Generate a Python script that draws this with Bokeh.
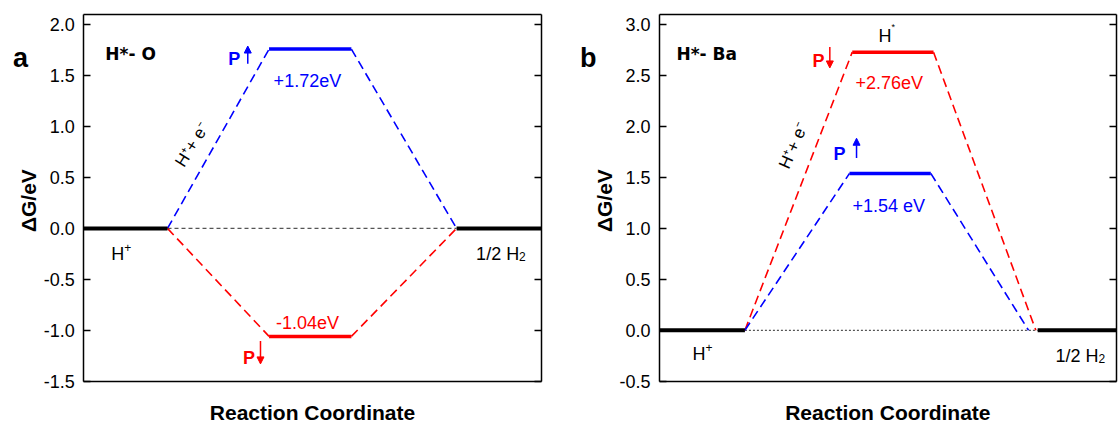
from bokeh.plotting import figure
from bokeh.layouts import row
from bokeh.models import Range1d, FixedTicker, LinearAxis, Arrow, NormalHead, Label
from bokeh.embed import file_html
from bokeh.resources import INLINE

# ---------------- data ----------------
# Panel a : H*- O
a_left_x = [0.0, 1.83]          # H+ level span
a_right_x = [8.15, 10.0]        # 1/2 H2 level span
a_mid_x = [4.05, 5.85]          # H* level span
a_end_level = 0.0
a_up_level = 1.76               # P up (blue)
a_down_level = -1.06            # P down (red)
a_up_text = "+1.72eV"
a_down_text = "-1.04eV"
a_yticks = [-1.5, -1.0, -0.5, 0.0, 0.5, 1.0, 1.5, 2.0]
a_ytick_labels = ["-1.5", "-1.0", "-0.5", "0.0", "0.5", "1.0", "1.5", "2.0"]
a_ybounds = [-1.5, 2.1]

# Panel b : H*- Ba
b_left_x = [0.0, 1.87]
b_right_x = [8.28, 10.0]
b_up_x = [4.16, 5.94]           # blue span
b_up_end = 8.08
b_down_x = [4.22, 6.0]          # red span
b_down_end = 8.24
b_end_level = 0.0
b_up_level = 1.54               # P up (blue)
b_down_level = 2.73             # P down (red)
b_up_text = "+1.54 eV"
b_down_text = "+2.76eV"
b_yticks = [-0.5, 0.0, 0.5, 1.0, 1.5, 2.0, 2.5, 3.0]
b_ytick_labels = ["-0.5", "0.0", "0.5", "1.0", "1.5", "2.0", "2.5", "3.0"]
b_ybounds = [-0.5, 3.1]

x_bounds = [0.0, 10.0]
x_label = "Reaction Coordinate"
y_label = "ΔG/eV"

BLUE = "#0000FF"
RED = "#FF0000"
SANS = "Liberation Sans"
DASH = "9 5"


def make_fig(xr, yr, yticks, ylabels, ybounds):
    p = figure(width=559, height=433, x_range=Range1d(*xr), y_range=Range1d(*yr),
               output_backend="svg", toolbar_location=None,
               min_border_left=0, min_border_right=0,
               min_border_top=0, min_border_bottom=0)
    p.xgrid.visible = False
    p.ygrid.visible = False
    p.outline_line_color = None
    p.background_fill_color = "white"
    p.border_fill_color = "white"

    ya = p.yaxis[0]
    ya.fixed_location = x_bounds[0]
    ya.bounds = tuple(ybounds)
    ya.ticker = FixedTicker(ticks=yticks)
    ya.major_label_overrides = dict(zip(yticks, ylabels))
    ya.major_tick_in = 7
    ya.major_tick_out = 0
    ya.minor_tick_line_color = None
    ya.major_tick_line_width = 1.5
    ya.axis_line_width = 1.5
    ya.axis_line_color = "black"
    ya.major_label_standoff = 9
    ya.major_label_text_font = SANS
    ya.major_label_text_font_size = "18px"
    ya.major_label_text_color = "black"

    xa = p.xaxis[0]
    xa.fixed_location = ybounds[0]
    xa.bounds = tuple(x_bounds)
    xa.ticker = FixedTicker(ticks=[])
    xa.major_label_text_font_size = "0px"
    xa.major_tick_in = 0
    xa.major_tick_out = 0
    xa.minor_tick_line_color = None
    xa.axis_line_width = 1.5
    xa.axis_line_color = "black"

    ta = LinearAxis(fixed_location=ybounds[1], bounds=tuple(x_bounds),
                    ticker=FixedTicker(ticks=[]), major_label_text_font_size="0px",
                    major_tick_in=0, major_tick_out=0, minor_tick_line_color=None,
                    axis_line_width=1.5, axis_line_color="black")
    p.add_layout(ta, "above")

    ra = LinearAxis(fixed_location=x_bounds[1], bounds=tuple(ybounds),
                    ticker=FixedTicker(ticks=yticks), major_label_text_font_size="0px",
                    major_tick_in=7, major_tick_out=0, minor_tick_line_color=None,
                    major_tick_line_width=1.5, axis_line_width=1.5, axis_line_color="black",
                    major_label_standoff=0)
    p.add_layout(ra, "right")
    return p


def lab(p, text, x, y, color="black", size=18, bold=False, font=SANS,
        align="left", baseline="alphabetic", angle=0, x_offset=0):
    p.add_layout(Label(x=x, y=y, text=text, text_color=color, text_font=font,
                       text_font_size=f"{size}px", text_font_style="bold" if bold else "normal",
                       text_align=align, text_baseline=baseline, angle=angle, angle_units="deg",
                       x_offset=x_offset))


def arrow(p, x, y0, y1, color):
    p.add_layout(Arrow(end=NormalHead(size=7, fill_color=color, line_color=color),
                       x_start=x, y_start=y0, x_end=x, y_end=y1,
                       line_color=color, line_width=1.5))


# ---------------- panel a ----------------
pa = make_fig((-1.821, 10.40), (-2.013, 2.237), a_yticks, a_ytick_labels, a_ybounds)
pa.line([a_left_x[1], a_right_x[0]], [a_end_level, a_end_level], line_color="#555555",
        line_width=1.2, line_dash="4 3")
pa.line([a_left_x[1], a_mid_x[0]], [a_end_level, a_up_level], line_color=BLUE, line_width=1.6, line_dash=DASH)
pa.line([a_mid_x[1], a_right_x[0]], [a_up_level, a_end_level], line_color=BLUE, line_width=1.6, line_dash=DASH)
pa.line(a_mid_x, [a_up_level, a_up_level], line_color=BLUE, line_width=3.5)
pa.line([a_left_x[1], a_mid_x[0]], [a_end_level, a_down_level], line_color=RED, line_width=1.6, line_dash=DASH)
pa.line([a_mid_x[1], a_right_x[0]], [a_down_level, a_end_level], line_color=RED, line_width=1.6, line_dash=DASH)
pa.line(a_mid_x, [a_down_level, a_down_level], line_color=RED, line_width=3.5)
pa.line(a_left_x, [a_end_level, a_end_level], line_color="black", line_width=4)
pa.line(a_right_x, [a_end_level, a_end_level], line_color="black", line_width=4)

lab(pa, y_label, -1.20, 0.273, size=21, bold=True, align="center", baseline="middle", angle=90)
lab(pa, x_label, 5.0, -1.807, size=21, bold=True, align="center")
lab(pa, "a", -1.55, 1.673, size=27, bold=True)
lab(pa, "H*- O", 0.47, 1.715, size=17, bold=True, font="DejaVu Sans")
lab(pa, "P", 3.16, 1.666, color=BLUE, bold=True)
arrow(pa, 3.585, 1.617, 1.79, BLUE)
lab(pa, a_up_text, 4.15, 1.45, color=BLUE)
lab(pa, "H⁺+ e⁻", 2.37, 0.82, size=17, align="center", baseline="middle", angle=58)
lab(pa, a_down_text, 4.2, -0.924, color=RED)
lab(pa, "P", 3.48, -1.268, color=RED, bold=True)
arrow(pa, 3.863, -1.105, -1.33, RED)
lab(pa, "H", 0.6, -0.247)
lab(pa, "+", 0.6, -0.19, size=12, x_offset=13)
lab(pa, "1/2 H", 8.577, -0.247)
lab(pa, "2", 8.577, -0.277, size=12, x_offset=43)

# ---------------- panel b ----------------
pb = make_fig((-2.190, 10.05), (-1.013, 3.237), b_yticks, b_ytick_labels, b_ybounds)
pb.line([b_left_x[1], b_right_x[0]], [b_end_level, b_end_level], line_color="#555555",
        line_width=1.2, line_dash="2 2")
pb.line([b_left_x[1], b_down_x[0]], [b_end_level, b_down_level], line_color=RED, line_width=1.6, line_dash=DASH)
pb.line([b_down_x[1], b_down_end], [b_down_level, b_end_level], line_color=RED, line_width=1.6, line_dash=DASH)
pb.line(b_down_x, [b_down_level, b_down_level], line_color=RED, line_width=3.5)
pb.line([b_left_x[1], b_up_x[0]], [b_end_level, b_up_level], line_color=BLUE, line_width=1.6, line_dash=DASH)
pb.line([b_up_x[1], b_up_end], [b_up_level, b_end_level], line_color=BLUE, line_width=1.6, line_dash=DASH)
pb.line(b_up_x, [b_up_level, b_up_level], line_color=BLUE, line_width=3.5)
pb.line(b_left_x, [b_end_level, b_end_level], line_color="black", line_width=4)
pb.line(b_right_x, [b_end_level, b_end_level], line_color="black", line_width=4)

lab(pb, y_label, -1.20, 1.273, size=21, bold=True, align="center", baseline="middle", angle=90)
lab(pb, x_label, 5.0, -0.807, size=21, bold=True, align="center")
lab(pb, "b", -1.74, 2.676, size=27, bold=True)
lab(pb, "H*- Ba", 0.37, 2.715, size=17, bold=True, font="DejaVu Sans")
lab(pb, "H", 4.795, 2.892)
lab(pb, "*", 4.795, 2.975, size=9, x_offset=13)
lab(pb, "P", 3.35, 2.647, color=RED, bold=True)
arrow(pb, 3.729, 2.78, 2.575, RED)
lab(pb, b_down_text, 4.29, 2.431, color=RED)
lab(pb, "H⁺+ e⁻", 2.934, 1.813, size=17, align="center", baseline="middle", angle=66)
lab(pb, "P", 3.81, 1.734, color=BLUE, bold=True)
arrow(pb, 4.314, 1.69, 1.885, BLUE)
lab(pb, b_up_text, 4.226, 1.224, color=BLUE)
lab(pb, "H", 0.723, -0.229)
lab(pb, "+", 0.723, -0.17, size=12, x_offset=13)
lab(pb, "1/2 H", 8.671, -0.248)
lab(pb, "2", 8.671, -0.278, size=12, x_offset=43)

layout = row(pa, pb)
open("out.html", "w").write(file_html(layout, INLINE))
